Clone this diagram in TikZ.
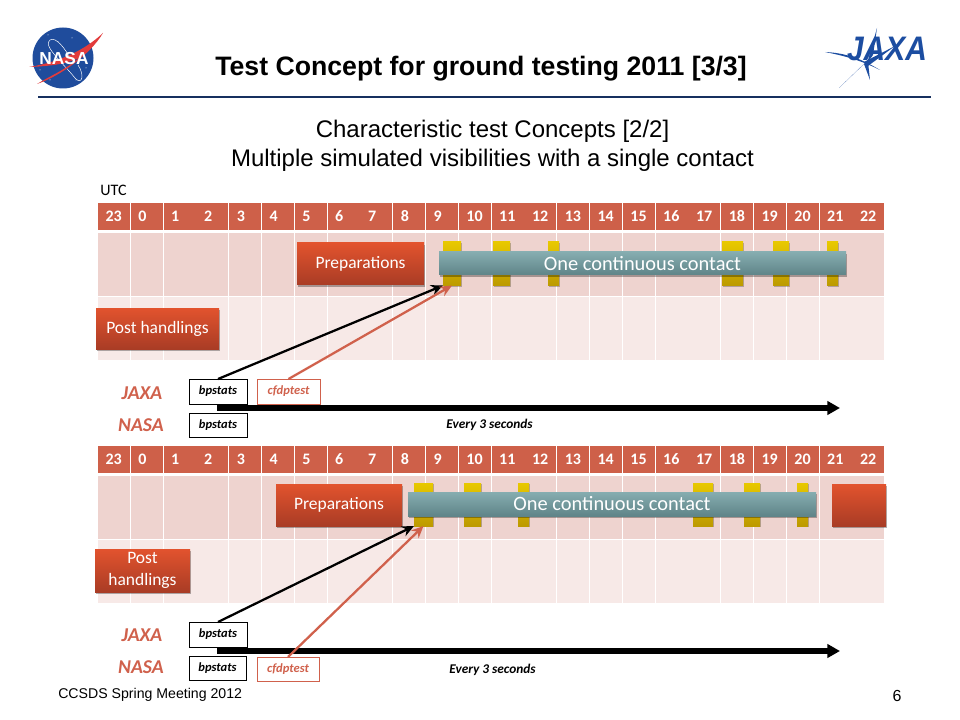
\documentclass[tikz,border=0pt]{standalone}
\usepackage{fontspec}
\setmainfont{Liberation Sans}
\newfontfamily\calfont{Carlito}
\usetikzlibrary{arrows.meta,shadows,calc}
\definecolor{hdr}{HTML}{CE6049}
\definecolor{rowa}{HTML}{EED3CF}
\definecolor{rowb}{HTML}{F7E9E7}
\definecolor{redtop}{HTML}{E2532E}
\definecolor{redbot}{HTML}{A93C25}
\definecolor{tealtop}{HTML}{86ADB0}
\definecolor{tealbot}{HTML}{5F8488}
\definecolor{yeltop}{HTML}{E8C800}
\definecolor{yelbot}{HTML}{BD9A00}
\definecolor{salmon}{HTML}{D0614C}
\definecolor{rulec}{HTML}{17305F}
\definecolor{nasab}{HTML}{1F4C9C}
\definecolor{nasar}{HTML}{E23B3B}
\definecolor{jaxab}{HTML}{1C4DA1}
\tikzset{
  x=0.75pt,y=-0.75pt,
  pic/.style={inner sep=0pt,outer sep=0pt,anchor=north west,align=center},
  hcell/.style={pic,fill=hdr,text=white,font=\calfont\bfseries\fontsize{12}{12}\selectfont},
  acell/.style={pic,fill=rowa},
  bcell/.style={pic,fill=rowb},
  redbox/.style={pic,top color=redtop,bottom color=redbot,text=white,
    font=\calfont\fontsize{13.1}{16}\selectfont,
    drop shadow={shadow xshift=1pt,shadow yshift=-1.2pt,fill=black,opacity=.3}},
  tealbox/.style={pic,top color=tealtop,bottom color=tealbot,text=white,
    font=\calfont\fontsize{15.3}{16}\selectfont,
    drop shadow={shadow xshift=1pt,shadow yshift=-1.2pt,fill=black,opacity=.3}},
  yelbox/.style={pic,top color=yeltop,bottom color=yelbot,
    drop shadow={shadow xshift=.8pt,shadow yshift=-1pt,fill=black,opacity=.25}},
  tool/.style={pic,draw=#1,line width=.7pt,fill=white,
    font=\calfont\bfseries\itshape\fontsize{9.4}{10}\selectfont},
  org/.style={inner sep=0pt,text=salmon,font=\calfont\bfseries\itshape\fontsize{14.7}{15}\selectfont},
  every3/.style={inner sep=0pt,font=\calfont\bfseries\itshape\fontsize{10}{10}\selectfont},
  thin arrow/.style={line width=1.7pt,-{Stealth[length=9pt,width=8pt]}},
  thick arrow/.style={line width=4.6pt,black,-{Triangle[length=9.5pt,width=10pt]}},
}
% \rbox{name}{x1}{y1}{x2}{y2}{style}{text}
\newcommand{\rbox}[7]{%
  \pgfmathsetmacro{\rw}{((#4)-(#2))*0.75}\pgfmathsetmacro{\rh}{((#5)-(#3))*0.75}%
  \node[#6,minimum width=\rw pt,minimum height=\rh pt] (#1) at (#2,#3) {#7};}
\begin{document}
\begin{tikzpicture}
\useasboundingbox (0,0) rectangle (960,720);
\fill[white] (0,0) rectangle (960,720);
% Title
\node[inner sep=0pt,font=\bfseries\fontsize{20}{22}\selectfont] (title) at (481,69) {Test Concept for ground testing 2011 [3/3]};
\coordinate (ruleL) at (38,97); \coordinate (ruleR) at (931,97);
\draw[rulec,line width=2.2pt] (ruleL) -- (ruleR);
\node[inner sep=0pt,font=\fontsize{18}{20}\selectfont] (sub1) at (492.5,131) {Characteristic test Concepts [2/2]};
\node[inner sep=0pt,font=\fontsize{18}{20}\selectfont] (sub2) at (492.5,160) {Multiple simulated visibilities with a single contact};
\node[inner sep=0pt,anchor=west,font=\calfont\fontsize{12}{14}\selectfont] (utc) at (100,190) {UTC};
\node[inner sep=0pt,anchor=west,font=\fontsize{10.6}{12}\selectfont] (foot) at (58,695) {CCSDS Spring Meeting 2012};
\node[inner sep=0pt,font=\fontsize{12}{14}\selectfont] (page) at (897,696) {6};
% NASA logo
\fill[nasab] (63,58) circle (30.5);
\draw[white,line width=.35pt] (50,40) .. controls (42,45) and (62,62) .. (75,78) .. controls (82,86) and (85,75) .. (78,65);
\draw[white,line width=.35pt] (50,40) .. controls (56,36) and (66,50) .. (70,58);
\foreach \a/\b in {48/35,72/38,84/52,40/70,50/80,76/80,58/42,86/68}{\fill[white] (\a,\b) circle (.5);}
\fill[nasar] (103,33) .. controls (85,50) and (60,62) .. (29,67) .. controls (58,66) and (70,62) .. (79,58) .. controls (65,70) and (50,76) .. (37,84) .. controls (60,76) and (90,55) .. (103,33) -- cycle;
\node[inner sep=0pt,text=white,font=\bfseries\fontsize{13}{13}\selectfont] (nasalogo) at (64,59) {NASA};
% JAXA logo
\node[inner sep=0pt,text=jaxab,xscale=.88,transform shape,font=\bfseries\itshape\fontsize{25.5}{26}\selectfont] (jaxalogo) at (887,49) {JAXA};
\fill[jaxab] (877,28) -- (868,60) -- (839,88) -- (864,64) -- (870,80) -- (868,62) -- (873,55) -- cycle;
\fill[jaxab] (825,52) .. controls (845,53) and (860,58) .. (880,70) .. controls (860,60) and (845,56) .. (825,52) -- cycle;
\fill[jaxab] (864,62) -- (895,46) -- (868,66) -- cycle;
% Tables
\foreach \tb/\ya in {t/203,u/446}{
  \foreach \lab [count=\n from 0] in {23,0,1,2,3,4,5,6,7,8,9,10,11,12,13,14,15,16,17,18,19,20,21,22}{
    \pgfmathsetmacro{\xl}{98+\n*32.8}
    \pgfmathsetmacro{\xr}{\xl+32.0}
    \rbox{\tb h\n}{\xl}{\ya}{\xr}{\ya+27}{hcell}{\makebox[24pt][l]{\hspace{5.7pt}\lab}}
    \rbox{\tb a\n}{\xl}{\ya+30}{\xr}{\ya+93}{acell}{}
    \rbox{\tb b\n}{\xl}{\ya+94}{\xr}{\ya+157}{bcell}{}
  }
}
% Top panel: visibilities
\rbox{ty1}{443}{242}{461}{285.5}{yelbox}{}
\rbox{ty2}{493}{242}{510}{285.5}{yelbox}{}
\rbox{ty3}{548}{242}{559}{285.5}{yelbox}{}
\rbox{ty4}{722}{242}{743}{285.5}{yelbox}{}
\rbox{ty5}{773}{242}{789}{285.5}{yelbox}{}
\rbox{ty6}{827}{242}{838}{285.5}{yelbox}{}
\rbox{tcontact}{439}{252}{846}{275}{tealbox}{One continuous contact}
\rbox{tprep}{297}{243}{424}{285}{redbox}{Preparations}
\rbox{tpost}{96}{308}{219}{349}{redbox}{Post handlings}
\node[org] (tjaxa) at (142,393) {JAXA};
\node[org] (tnasa) at (141,425) {NASA};
\rbox{tbpj}{189}{379}{247}{404}{tool=black}{bpstats}
\rbox{tcfdp}{257}{379}{320}{404}{tool=salmon,text=salmon}{cfdptest}
\rbox{tbpn}{189}{413}{247}{437}{tool=black}{bpstats}
\node[every3] (tevery) at (489.5,425) {Every 3 seconds};
\coordinate (tstart) at (217,408); \coordinate (tend) at (840,408);
\draw[thick arrow] (tstart) -- (tend);
\draw[thin arrow,black] (tbpj.north) -- (ty1.south west);
\draw[thin arrow,salmon] (tcfdp.north) -- (ty1.south);
% Bottom panel
\rbox{uy1}{414}{483}{433}{526}{yelbox}{}
\rbox{uy2}{464}{483}{481}{526}{yelbox}{}
\rbox{uy3}{518}{483}{529}{526}{yelbox}{}
\rbox{uy4}{693}{483}{713}{526}{yelbox}{}
\rbox{uy5}{744}{483}{760}{526}{yelbox}{}
\rbox{uy6}{797}{483}{808}{526}{yelbox}{}
\rbox{ucontact}{408}{492}{816}{516}{tealbox}{One continuous contact}
\rbox{uprep}{276}{484}{402}{526}{redbox}{Preparations}
\rbox{upost}{95}{549}{190}{592}{redbox}{Post\\handlings}
\rbox{ured}{832}{484}{886}{526}{redbox}{}
\node[org] (ujaxa) at (142,635) {JAXA};
\node[org] (unasa) at (141,667) {NASA};
\coordinate (ustart) at (217,651); \coordinate (uend) at (840,651);
\draw[thick arrow] (ustart) -- (uend);
\rbox{ubpj}{189}{622}{247}{647}{tool=black}{bpstats}
\rbox{ubpn}{189}{656}{246}{680}{tool=black}{bpstats}
\rbox{ucfdp}{257}{657}{319}{681}{tool=salmon,text=salmon}{cfdptest}
\node[every3] (uevery) at (492.5,670) {Every 3 seconds};
\draw[thin arrow,black] (ubpj.north) -- (uy1.south west);
\draw[thin arrow,salmon] (ucfdp.north) -- (uy1.south);
\end{tikzpicture}
\end{document}
